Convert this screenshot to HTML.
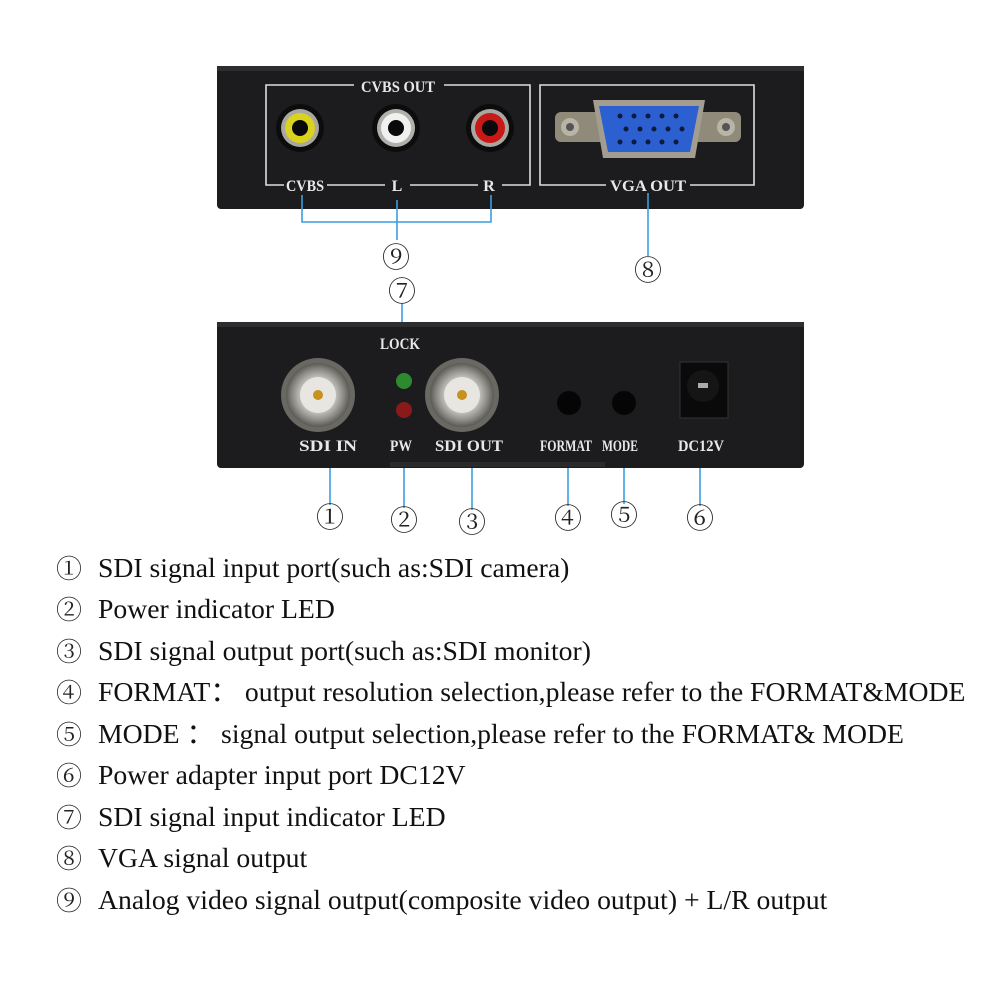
<!DOCTYPE html>
<html><head><meta charset="utf-8"><style>
body{margin:0;background:#fff;width:1000px;height:1000px;overflow:hidden}
svg{display:block}
.l{font-family:"Liberation Serif",serif;font-size:27.7px;fill:#111}
.n{font-family:"Noto Serif CJK SC","Noto Sans CJK SC",serif;font-size:26px;fill:#222}
.w{font-family:"Liberation Serif",serif;font-weight:bold;fill:#e8e8e8;font-size:16px;text-anchor:middle}
.c{font-family:"Noto Serif CJK SC","Noto Sans CJK SC",serif;font-size:28px;fill:#222;text-anchor:middle}
</style></head><body>
<svg width="1000" height="1000" viewBox="0 0 1000 1000">
<defs>
<radialGradient id="bnc" cx="50%" cy="50%" r="50%"><stop offset="0" stop-color="#f4f4f0"/><stop offset=".45" stop-color="#d8d6cf"/><stop offset=".8" stop-color="#8c8a84"/><stop offset="1" stop-color="#5a5955"/></radialGradient>
</defs>
<rect x="217" y="66" width="587" height="143" rx="4" fill="#1c1c1e"/>
<rect x="217" y="66" width="587" height="5" fill="#2e2e30"/>
<g fill="none" stroke="#ddd" stroke-width="1.6">
<path d="M354 85 H266 V185 H284 M327 185 H385 M410 185 H478 M502 185 H530 V85 H444"/>
<path d="M606 185 H540 V85 H754 V185 H690"/>
</g>
<text class="w" x="398" y="92" textLength="74" lengthAdjust="spacingAndGlyphs">CVBS  OUT</text>
<text class="w" x="305" y="191" textLength="38" lengthAdjust="spacingAndGlyphs">CVBS</text>
<text class="w" x="397" y="191">L</text>
<text class="w" x="489" y="191">R</text>
<text class="w" x="648" y="191" textLength="76" lengthAdjust="spacingAndGlyphs">VGA  OUT</text>
<circle cx="300" cy="128" r="24" fill="#0c0c0c"/><circle cx="300" cy="128" r="19" fill="#a8a8a0"/><circle cx="300" cy="128" r="15" fill="#d9d21e"/><circle cx="300" cy="128" r="8" fill="#0a0a0a"/>
<circle cx="396" cy="128" r="24" fill="#0c0c0c"/><circle cx="396" cy="128" r="19" fill="#b0b0aa"/><circle cx="396" cy="128" r="15" fill="#f0f0f0"/><circle cx="396" cy="128" r="8" fill="#0a0a0a"/>
<circle cx="490" cy="128" r="24" fill="#0c0c0c"/><circle cx="490" cy="128" r="19" fill="#a8a8a0"/><circle cx="490" cy="128" r="15" fill="#c81818"/><circle cx="490" cy="128" r="8" fill="#0a0a0a"/>
<rect x="555" y="112" width="186" height="30" rx="6" fill="#8f8a7a"/>
<circle cx="570" cy="127" r="9" fill="#b8b4a6"/><circle cx="570" cy="127" r="4" fill="#555"/>
<circle cx="726" cy="127" r="9" fill="#b8b4a6"/><circle cx="726" cy="127" r="4" fill="#555"/>
<path d="M593 100 H705 L695 158 H603 Z" fill="#a29d8e"/>
<path d="M599 106 H699 L690 152 H608 Z" fill="#2c5fd0"/>
<g fill="#0d1a40">
<circle cx="620" cy="116" r="2.5"/><circle cx="634" cy="116" r="2.5"/><circle cx="648" cy="116" r="2.5"/><circle cx="662" cy="116" r="2.5"/><circle cx="676" cy="116" r="2.5"/>
<circle cx="626" cy="129" r="2.5"/><circle cx="640" cy="129" r="2.5"/><circle cx="654" cy="129" r="2.5"/><circle cx="668" cy="129" r="2.5"/><circle cx="682" cy="129" r="2.5"/>
<circle cx="620" cy="142" r="2.5"/><circle cx="634" cy="142" r="2.5"/><circle cx="648" cy="142" r="2.5"/><circle cx="662" cy="142" r="2.5"/><circle cx="676" cy="142" r="2.5"/>
</g>
<g stroke="#3a9ee0" stroke-width="1.6" fill="none">
<path d="M302 195 V222 H491 V195"/><path d="M397 200 V240"/><path d="M648 193 V256"/>
<path d="M402 303 V378"/>
<path d="M330 445 V505"/><path d="M404 415 V508"/><path d="M472 450 V510"/><path d="M568 415 V506"/><path d="M624 415 V504"/><path d="M700 395 V506"/>
</g>
<text class="c" x="396" y="267">⑨</text>
<text class="c" x="648" y="280">⑧</text>
<text class="c" x="402" y="301">⑦</text>
<rect x="217" y="322" width="587" height="146" rx="4" fill="#1c1c1e"/>
<rect x="217" y="322" width="587" height="5" fill="#2e2e30"/>
<rect x="390" y="462" width="215" height="5" fill="#2a2a2c"/>
<text class="w" x="400" y="349" textLength="40" lengthAdjust="spacingAndGlyphs">LOCK</text>
<circle cx="318" cy="395" r="37" fill="#6a6862"/><circle cx="318" cy="395" r="32" fill="url(#bnc)"/><circle cx="318" cy="395" r="18" fill="#e8e6e0"/><circle cx="318" cy="395" r="5" fill="#c8901c"/>
<circle cx="462" cy="395" r="37" fill="#6a6862"/><circle cx="462" cy="395" r="32" fill="url(#bnc)"/><circle cx="462" cy="395" r="18" fill="#e8e6e0"/><circle cx="462" cy="395" r="5" fill="#c8901c"/>
<circle cx="404" cy="381" r="8" fill="#2e8a2e"/>
<circle cx="404" cy="410" r="8" fill="#8a1a1a"/>
<circle cx="569" cy="403" r="12" fill="#050505"/>
<circle cx="624" cy="403" r="12" fill="#050505"/>
<rect x="680" y="362" width="48" height="56" fill="#0a0a0a" stroke="#333"/>
<circle cx="703" cy="386" r="16" fill="#151515"/><rect x="698" y="383" width="10" height="5" fill="#aaa"/>
<text class="w" x="328" y="451" textLength="58" lengthAdjust="spacingAndGlyphs">SDI  IN</text>
<text class="w" x="401" y="451" textLength="22" lengthAdjust="spacingAndGlyphs">PW</text>
<text class="w" x="469" y="451" textLength="68" lengthAdjust="spacingAndGlyphs">SDI OUT</text>
<text class="w" x="566" y="451" textLength="52" lengthAdjust="spacingAndGlyphs">FORMAT</text>
<text class="w" x="620" y="451" textLength="36" lengthAdjust="spacingAndGlyphs">MODE</text>
<text class="w" x="701" y="451" textLength="46" lengthAdjust="spacingAndGlyphs">DC12V</text>
<text class="c" x="330" y="527">①</text>
<text class="c" x="404" y="530">②</text>
<text class="c" x="472" y="532">③</text>
<text class="c" x="568" y="528">④</text>
<text class="c" x="624" y="525">⑤</text>
<text class="c" x="700" y="528">⑥</text>
<g class="n">
<text x="56" y="578">①</text><text x="56" y="619">②</text><text x="56" y="661">③</text>
<text x="56" y="702">④</text><text x="56" y="744">⑤</text><text x="56" y="785">⑥</text>
<text x="56" y="827">⑦</text><text x="56" y="868">⑧</text><text x="56" y="910">⑨</text>
</g>
<g class="l">
<text x="98" y="577">SDI signal input port(such as:SDI camera)</text>
<text x="98" y="618">Power indicator LED</text>
<text x="98" y="660">SDI signal output port(such as:SDI monitor)</text>
<text x="98" y="701">FORMAT：  output resolution selection,please refer to the FORMAT&amp;MODE</text>
<text x="98" y="743">MODE ：  signal output selection,please refer to the FORMAT&amp; MODE</text>
<text x="98" y="784">Power adapter input port DC12V</text>
<text x="98" y="826">SDI signal input indicator LED</text>
<text x="98" y="867">VGA signal output</text>
<text x="98" y="909">Analog video signal output(composite video output) + L/R output</text>
</g>
</svg>
</body></html>
